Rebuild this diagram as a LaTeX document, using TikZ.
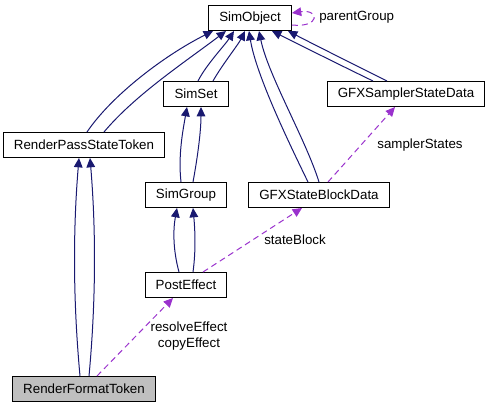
\documentclass[tikz,border=0pt]{standalone}
\usepackage{fontspec}
\setmainfont{Liberation Sans}
\usetikzlibrary{arrows.meta,calc}
\definecolor{midnightblue}{RGB}{25,25,112}
\definecolor{orchid}{RGB}{154,50,205}

\begin{document}
\begin{tikzpicture}[
  x=0.75pt, y=-0.75pt,
  >={Triangle[length=7pt,width=6.5pt]},
  every node/.style={font=\fontsize{10}{12}\selectfont},
  cls/.style={draw=black, line width=0.75pt, fill=white, inner xsep=8pt,
              inner ysep=0pt, minimum height=18.75pt},
  focus/.style={cls, fill=black!25},
  inherit/.style={->, midnightblue, line width=0.75pt},
  usage/.style={->, orchid, line width=0.75pt, dash pattern=on 4.5pt off 3pt},
  lbl/.style={inner sep=0pt, align=center},
]
  \useasboundingbox (0,0) rectangle (488,408);
  % Classes
  \node[cls] (simobj) at (250,18) {SimObject};
  \node[cls] (simset) at (196,94) {SimSet};
  \node[cls] (sampler) at (406,94) {GFXSamplerStateData};
  \node[cls] (rpst) at (84,145) {RenderPassStateToken};
  \node[cls] (simgroup) at (186,195) {SimGroup};
  \node[cls] (sbd) at (319,195) {GFXStateBlockData};
  \node[cls] (postfx) at (186,285) {PostEffect};
  \node[focus] (rft) at (84,389) {RenderFormatToken};
  % Inheritance (pairs)
  \draw[inherit] ($(rpst.north)+(3,0)$) .. controls (112,95) and (165,55)
    .. ($(simobj.south)+(-37,0)$);
  \draw[inherit] ($(rpst.north)+(20,0)$) .. controls (135,95) and (185,62)
    .. ($(simobj.south)+(-24,0)$);
  \draw[inherit] ($(simset.north)+(2,0)$) .. controls (206,65) and (225,45)
    .. ($(simobj.south)+(-16,0)$);
  \draw[inherit] ($(simset.north)+(17,0)$) .. controls (222,65) and (238,45)
    .. ($(simobj.south)+(-5,0)$);
  \draw[inherit] ($(sbd.north)+(-11,0)$) .. controls (290,145) and (256,75)
    .. ($(simobj.south)+(-1,0)$);
  \draw[inherit] ($(sbd.north)+(0,0)$) .. controls (306,140) and (268,75)
    .. ($(simobj.south)+(9,0)$);
  \draw[inherit] ($(sampler.north)+(-33,0)$) .. controls (340,65) and (300,45)
    .. ($(simobj.south)+(22,0)$);
  \draw[inherit] ($(sampler.north)+(-19,0)$) .. controls (355,65) and (315,45)
    .. ($(simobj.south)+(38,0)$);
  \draw[inherit] ($(simgroup.north)+(-5,0)$) .. controls (178,155) and (183,130)
    .. ($(simset.south)+(-9,0)$);
  \draw[inherit] ($(simgroup.north)+(7,0)$) .. controls (198,155) and (201,130)
    .. ($(simset.south)+(5,0)$);
  \draw[inherit] ($(postfx.north)+(-7,0)$) .. controls (173,250) and (173,230)
    .. ($(simgroup.south)+(-9,0)$);
  \draw[inherit] ($(postfx.north)+(7,0)$) .. controls (196,250) and (195,230)
    .. ($(simgroup.south)+(7,0)$);
  \draw[inherit] ($(rft.north)+(-4,0)$) .. controls (73,300) and (73,230)
    .. ($(rpst.south)+(-5,0)$);
  \draw[inherit] ($(rft.north)+(5,0)$) .. controls (96,300) and (96,230)
    .. ($(rpst.south)+(6,0)$);
  % Usage
  \draw[usage] ($(simobj.east)+(0,7)$) .. controls (320,28) and (320,9)
    .. ($(simobj.east)+(0,-5)$);
  \node[lbl, anchor=west] (lparent) at (319,17) {parentGroup};
  \draw[usage] ($(sbd.north)+(9,0)$) -- ($(sampler.south)+(-11,0)$);
  \node[lbl] (lsampler) at (420,145) {samplerStates};
  \draw[usage] ($(postfx.north)+(17,0)$) -- ($(sbd.south)+(-17,0)$);
  \node[lbl] (lstate) at (295,240) {stateBlock};
  \draw[usage] ($(rft.north)+(13,0)$) -- ($(postfx.south)+(-13,0)$);
  \node[lbl] (leffect) at (189,336) {resolveEffect\\copyEffect};
\end{tikzpicture}
\end{document}
